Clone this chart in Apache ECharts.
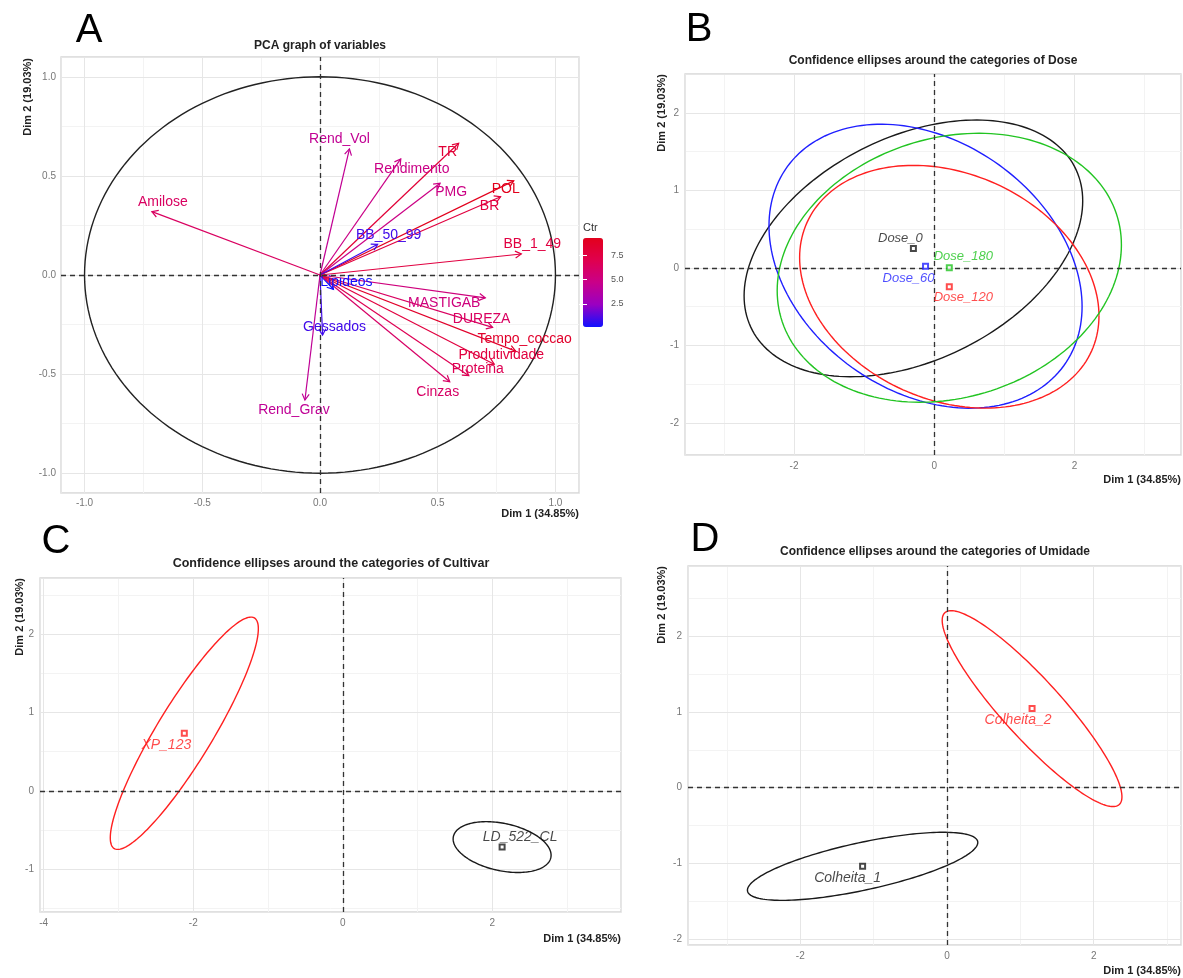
<!DOCTYPE html>
<html>
<head>
<meta charset="utf-8">
<script src="https://cdn.jsdelivr.net/npm/echarts@6/dist/echarts.min.js"></script>
<style>
html,body{margin:0;padding:0;background:#fff;}
#chart{width:1183px;height:978px;}
</style>
</head>
<body>
<div id="chart"></div>
<script>
// ===== Panel A: PCA graph of variables =====
const varNames = ['Rend_Vol','Rendimento','TR','PMG','POL','BR','BB_1_49','BB_50_99','Amilose','Lipideos','Gessados','Rend_Grav','MASTIGAB','DUREZA','Tempo_coccao','Produtividade','Proteina','Cinzas'];
const varDim1  = [0.125, 0.343, 0.589, 0.510, 0.823, 0.767, 0.855, 0.245, -0.714, 0.057, 0.011, -0.064, 0.702, 0.733, 0.831, 0.740, 0.632, 0.551];
const varDim2  = [0.636, 0.586, 0.665, 0.463, 0.475, 0.395, 0.106, 0.155, 0.320, -0.072, -0.303, -0.631, -0.115, -0.264, -0.384, -0.450, -0.508, -0.539];
const varCtr   = [4.3, 4.8, 8.1, 4.9, 9.3, 7.7, 7.6, 0.9, 6.3, 0.1, 0.9, 4.2, 5.2, 6.3, 8.6, 7.7, 6.8, 6.1];
const ctrTicks = [2.5, 5.0, 7.5];

// ===== Panel B: Dose =====
const doseNames = ['Dose_0', 'Dose_60', 'Dose_120', 'Dose_180'];
const doseDim1  = [-0.297, -0.124, 0.215, 0.215];
const doseDim2  = [0.25, 0.02, -0.245, 0.0];
const doseSd1   = [2.415, 2.233, 2.135, 2.455];   // ellipse half-extent on Dim 1
const doseSd2   = [1.656, 1.832, 1.566, 1.735];   // ellipse half-extent on Dim 2
const doseRho   = [0.37, -0.284, -0.24, 0.17];    // ellipse correlation

// ===== Panel C: Cultivar =====
const cultNames = ['XP_123', 'LD_522_CL'];
const cultDim1  = [-2.12, 2.13];
const cultDim2  = [0.735, -0.72];
const cultSd1   = [0.99, 0.655];
const cultSd2   = [1.485, 0.325];
const cultRho   = [0.9, -0.32];

// ===== Panel D: Umidade =====
const umidNames = ['Colheita_1', 'Colheita_2'];
const umidDim1  = [-1.15, 1.16];
const umidDim2  = [-1.04, 1.045];
const umidSd1   = [1.57, 1.225];
const umidSd2   = [0.45, 1.295];
const umidRho   = [0.70, -0.9];

// ===== styles / layout (not data) =====
const FONT = '"Liberation Sans", Arial, Helvetica, sans-serif';
const doseColors = ['#1a1a1a', '#1f1fff', '#ff2020', '#22c422'];
const cultColors = ['#ff2020', '#1a1a1a'];
const umidColors = ['#1a1a1a', '#ff2020'];
const varLabelNudge = {
  Rend_Vol:[-10,-10], Rendimento:[11,10], TR:[-11,9], PMG:[11,9], POL:[-8,8], BR:[-11,9],
  BB_1_49:[11,-10], BB_50_99:[11,-9], Amilose:[11,-9], Lipideos:[13,-7], Gessados:[12,-8],
  Rend_Grav:[-11,10], MASTIGAB:[-41,5], DUREZA:[-11,-8], Tempo_coccao:[9,-12],
  Produtividade:[7,-9], Proteina:[9,-7], Cinzas:[-12,10]
};
const doseLabelNudge = [[-13,-10],[-17,12],[14,11],[14,-11]];
const cultLabelNudge = [[-18,12],[18,-10]];
const umidLabelNudge = [[-15,12],[-14,12]];

function ellipseRender(params, api) {
  const cx = api.value(0), cy = api.value(1), s1 = api.value(2), s2 = api.value(3), r = api.value(4);
  const q = Math.sqrt(1 - r * r);
  const pts = [];
  const N = 180;
  for (let i = 0; i <= N; i++) {
    const t = 2 * Math.PI * i / N;
    pts.push(api.coord([cx + s1 * Math.cos(t), cy + s2 * (r * Math.cos(t) + q * Math.sin(t))]));
  }
  return { type: 'polyline', shape: { points: pts }, style: { stroke: api.visual('color'), fill: 'none', lineWidth: 1.4 } };
}

function arrowRender(params, api) {
  const o = api.coord([0, 0]);
  const p = api.coord([api.value(0), api.value(1)]);
  const color = api.visual('color');
  const ang = Math.atan2(p[1] - o[1], p[0] - o[0]);
  const L = 7, a = Math.PI / 6;
  const h1 = [p[0] - L * Math.cos(ang - a), p[1] - L * Math.sin(ang - a)];
  const h2 = [p[0] - L * Math.cos(ang + a), p[1] - L * Math.sin(ang + a)];
  const name = varNames[params.dataIndex];
  const nd = varLabelNudge[name];
  return {
    type: 'group',
    children: [
      { type: 'line', shape: { x1: o[0], y1: o[1], x2: p[0], y2: p[1] }, style: { stroke: color, lineWidth: 1.2 } },
      { type: 'polyline', shape: { points: [h1, p, h2] }, style: { stroke: color, fill: 'none', lineWidth: 1.2 } },
      { type: 'text', x: p[0] + nd[0], y: p[1] + nd[1], z2: 10,
        style: { text: name, fill: color, font: '14px ' + FONT, align: 'center', verticalAlign: 'middle' } }
    ]
  };
}

const zeroLines = {
  silent: true, symbol: ['none', 'none'], label: { show: false }, animation: false,
  lineStyle: { type: [5, 4], color: '#333', width: 1.3 },
  data: [{ xAxis: 0 }, { yAxis: 0 }]
};

const tickLabelStyle = { color: '#777', fontSize: 10, fontFamily: FONT, margin: 6, showMinLabel: false, showMaxLabel: false };

function majorAxis(gridIndex, min, max, step, pos, labelExtra) {
  return {
    type: 'value', gridIndex, min, max, position: pos, splitNumber: 5,
    minInterval: step, maxInterval: step, z: 1,
    axisLine: { show: false, onZero: false },
    axisTick: { show: false },
    axisLabel: Object.assign({}, tickLabelStyle, labelExtra || {}),
    splitLine: { show: true, lineStyle: { color: '#e6e6e6', width: 1 } }
  };
}
function minorAxis(gridIndex, min, max, step, pos) {
  return {
    type: 'value', gridIndex, min, max, position: pos, splitNumber: 10,
    minInterval: step, maxInterval: step, z: 0,
    axisLine: { show: false, onZero: false },
    axisTick: { show: false },
    axisLabel: { show: false },
    splitLine: { show: true, lineStyle: { color: '#f3f3f3', width: 1 } }
  };
}

function xName(padTop) {
  return {
    name: 'Dim 1 (34.85%)', nameLocation: 'end', nameGap: 0,
    nameTextStyle: { align: 'right', verticalAlign: 'top', padding: [padTop, 0, 0, 0], fontWeight: 'bold', fontSize: 11, color: '#222', fontFamily: FONT }
  };
}

function pointSeries(idx, names, d1, d2, colors, nudges, fs) {
  return {
    type: 'scatter', xAxisIndex: idx, yAxisIndex: idx, symbol: 'emptyRect', symbolSize: 5, z: 5,
    itemStyle: { borderWidth: 1 },
    data: names.map((n, i) => ({
      name: n, value: [d1[i], d2[i]],
      itemStyle: { color: colors[i], borderColor: colors[i] },
      label: { show: true, position: 'inside', offset: nudges[i], formatter: '{b}', fontStyle: 'italic',
               fontSize: fs, fontFamily: FONT, color: colors[i] }
    }))
  };
}

function ellipseSeries(idx, names, d1, d2, s1, s2, rho, colors) {
  return {
    type: 'custom', xAxisIndex: idx, yAxisIndex: idx, renderItem: ellipseRender, z: 3, clip: true,
    markLine: zeroLines,
    data: names.map((n, i) => ({ name: n, value: [d1[i], d2[i], s1[i], s2[i], rho[i]], itemStyle: { color: colors[i] } }))
  };
}

const gridBorder = { show: true, borderColor: '#d6d6d6', borderWidth: 1.3, backgroundColor: '#fff' };
const fmt1 = { formatter: v => v.toFixed(1), margin: 5 };

// ranges of each panel (axis limits)
const lim = {
  A: { x: [-1.1, 1.1], y: [-1.1, 1.1] },
  B: { x: [-3.555, 3.52], y: [-2.416, 2.50] },
  C: { x: [-4.05, 3.72], y: [-1.55, 2.72] },
  D: { x: [-3.53, 3.19], y: [-2.08, 2.93] }
};

const option = {
  animation: false,
  backgroundColor: '#fff',
  textStyle: { fontFamily: FONT },
  title: [
    { text: 'PCA graph of variables', left: 320, top: 40, textAlign: 'center', padding: 0,
      textStyle: { fontSize: 12, fontWeight: 'bold', color: '#222', fontFamily: FONT } },
    { text: 'Confidence ellipses around the categories of Dose', left: 933, top: 55, textAlign: 'center', padding: 0,
      textStyle: { fontSize: 12, fontWeight: 'bold', color: '#222', fontFamily: FONT } },
    { text: 'Confidence ellipses around the categories of Cultivar', left: 331, top: 557, textAlign: 'center', padding: 0,
      textStyle: { fontSize: 12.5, fontWeight: 'bold', color: '#222', fontFamily: FONT } },
    { text: 'Confidence ellipses around the categories of Umidade', left: 935, top: 546, textAlign: 'center', padding: 0,
      textStyle: { fontSize: 12, fontWeight: 'bold', color: '#222', fontFamily: FONT } }
  ],
  grid: [
    Object.assign({ left: 61, top: 57, width: 518, height: 436, outerBoundsMode: 'none' }, gridBorder),
    Object.assign({ left: 685, top: 74, width: 496, height: 381, outerBoundsMode: 'none' }, gridBorder),
    Object.assign({ left: 40, top: 578, width: 581, height: 334, outerBoundsMode: 'none' }, gridBorder),
    Object.assign({ left: 688, top: 566, width: 493, height: 379, outerBoundsMode: 'none' }, gridBorder),
    { left: 583, top: 238, width: 20, height: 89, show: false, outerBoundsMode: 'none' }
  ],
  xAxis: [
    Object.assign(majorAxis(0, lim.A.x[0], lim.A.x[1], 0.5, 'bottom', fmt1), xName(15)),
    Object.assign(majorAxis(1, lim.B.x[0], lim.B.x[1], 2, 'bottom'), xName(19)),
    Object.assign(majorAxis(2, lim.C.x[0], lim.C.x[1], 2, 'bottom'), xName(21)),
    Object.assign(majorAxis(3, lim.D.x[0], lim.D.x[1], 2, 'bottom'), xName(20)),
    { type: 'value', gridIndex: 4, min: 0, max: 1, show: false },
    minorAxis(0, lim.A.x[0], lim.A.x[1], 0.25, 'top'),
    minorAxis(1, lim.B.x[0], lim.B.x[1], 1, 'top'),
    minorAxis(2, lim.C.x[0], lim.C.x[1], 1, 'top'),
    minorAxis(3, lim.D.x[0], lim.D.x[1], 1, 'top')
  ],
  yAxis: [
    majorAxis(0, lim.A.y[0], lim.A.y[1], 0.5, 'left', fmt1),
    majorAxis(1, lim.B.y[0], lim.B.y[1], 1, 'left'),
    majorAxis(2, lim.C.y[0], lim.C.y[1], 1, 'left'),
    majorAxis(3, lim.D.y[0], lim.D.y[1], 1, 'left'),
    { type: 'value', gridIndex: 4, position: 'right', z: 10,
      min: Math.min(...varCtr), max: Math.max(...varCtr),
      axisLine: { show: false }, splitLine: { show: false },
      axisTick: { show: true, inside: true, length: 4, customValues: ctrTicks, lineStyle: { color: '#fff', width: 1 } },
      axisLabel: { show: true, customValues: ctrTicks, margin: 8, color: '#555', fontSize: 9, fontFamily: FONT, formatter: v => v.toFixed(1) } },
    { type: 'value', gridIndex: 4, position: 'left', z: 10,
      min: Math.min(...varCtr), max: Math.max(...varCtr),
      axisLine: { show: false }, splitLine: { show: false },
      axisTick: { show: true, inside: true, length: 4, customValues: ctrTicks, lineStyle: { color: '#fff', width: 1 } },
      axisLabel: { show: false } },
    minorAxis(0, lim.A.y[0], lim.A.y[1], 0.25, 'right'),
    minorAxis(1, lim.B.y[0], lim.B.y[1], 0.5, 'right'),
    minorAxis(2, lim.C.y[0], lim.C.y[1], 0.5, 'right'),
    minorAxis(3, lim.D.y[0], lim.D.y[1], 0.5, 'right')
  ],
  visualMap: [{
    type: 'continuous', seriesIndex: 1, dimension: 2,
    min: Math.min(...varCtr), max: Math.max(...varCtr),
    inRange: { color: ['#1010ff', '#9a00c2', '#c90089', '#e0004e', '#e2001c'] },
    orient: 'vertical', left: 583, top: 238, itemWidth: 20, itemHeight: 89,
    calculable: false, padding: 0, show: true, text: null, showLabel: false, hoverLink: false
  }],
  graphic: [
    { type: 'text', x: 89, y: 31, style: { text: 'A', font: '40px ' + FONT, fill: '#000', align: 'center', verticalAlign: 'middle' } },
    { type: 'text', x: 699, y: 30, style: { text: 'B', font: '40px ' + FONT, fill: '#000', align: 'center', verticalAlign: 'middle' } },
    { type: 'text', x: 56, y: 542, style: { text: 'C', font: '40px ' + FONT, fill: '#000', align: 'center', verticalAlign: 'middle' } },
    { type: 'text', x: 705, y: 540, style: { text: 'D', font: '40px ' + FONT, fill: '#000', align: 'center', verticalAlign: 'middle' } },
    { type: 'text', x: 27.6, y: 58, rotation: Math.PI / 2, style: { text: 'Dim 2 (19.03%)', font: 'bold 11px ' + FONT, fill: '#222', align: 'right', verticalAlign: 'middle' } },
    { type: 'text', x: 662, y: 74, rotation: Math.PI / 2, style: { text: 'Dim 2 (19.03%)', font: 'bold 11px ' + FONT, fill: '#222', align: 'right', verticalAlign: 'middle' } },
    { type: 'text', x: 20, y: 578, rotation: Math.PI / 2, style: { text: 'Dim 2 (19.03%)', font: 'bold 11px ' + FONT, fill: '#222', align: 'right', verticalAlign: 'middle' } },
    { type: 'text', x: 661.5, y: 566, rotation: Math.PI / 2, style: { text: 'Dim 2 (19.03%)', font: 'bold 11px ' + FONT, fill: '#222', align: 'right', verticalAlign: 'middle' } },
    { type: 'text', x: 583, y: 228, style: { text: 'Ctr', font: '11px ' + FONT, fill: '#333', align: 'left', verticalAlign: 'middle' } }
  ],
  series: [
    // A: correlation circle + zero lines
    { type: 'custom', xAxisIndex: 0, yAxisIndex: 0, renderItem: ellipseRender, z: 2, markLine: zeroLines,
      data: [{ value: [0, 0, 1, 1, 0], itemStyle: { color: '#222' } }] },
    // A: variable arrows, coloured by contribution
    { type: 'custom', xAxisIndex: 0, yAxisIndex: 0, renderItem: arrowRender, z: 4,
      encode: { x: 0, y: 1 },
      data: varNames.map((n, i) => ({ name: n, value: [varDim1[i], varDim2[i], varCtr[i]] })) },
    // B
    ellipseSeries(1, doseNames, doseDim1, doseDim2, doseSd1, doseSd2, doseRho, doseColors),
    pointSeries(1, doseNames, doseDim1, doseDim2, doseColors, doseLabelNudge, 13),
    // C
    ellipseSeries(2, cultNames, cultDim1, cultDim2, cultSd1, cultSd2, cultRho, cultColors),
    pointSeries(2, cultNames, cultDim1, cultDim2, cultColors, cultLabelNudge, 14),
    // D
    ellipseSeries(3, umidNames, umidDim1, umidDim2, umidSd1, umidSd2, umidRho, umidColors),
    pointSeries(3, umidNames, umidDim1, umidDim2, umidColors, umidLabelNudge, 14)
  ]
};

const chart = echarts.init(document.getElementById('chart'), null, { renderer: 'canvas', width: 1183, height: 978 });
chart.setOption(option);
</script>
</body>
</html>
